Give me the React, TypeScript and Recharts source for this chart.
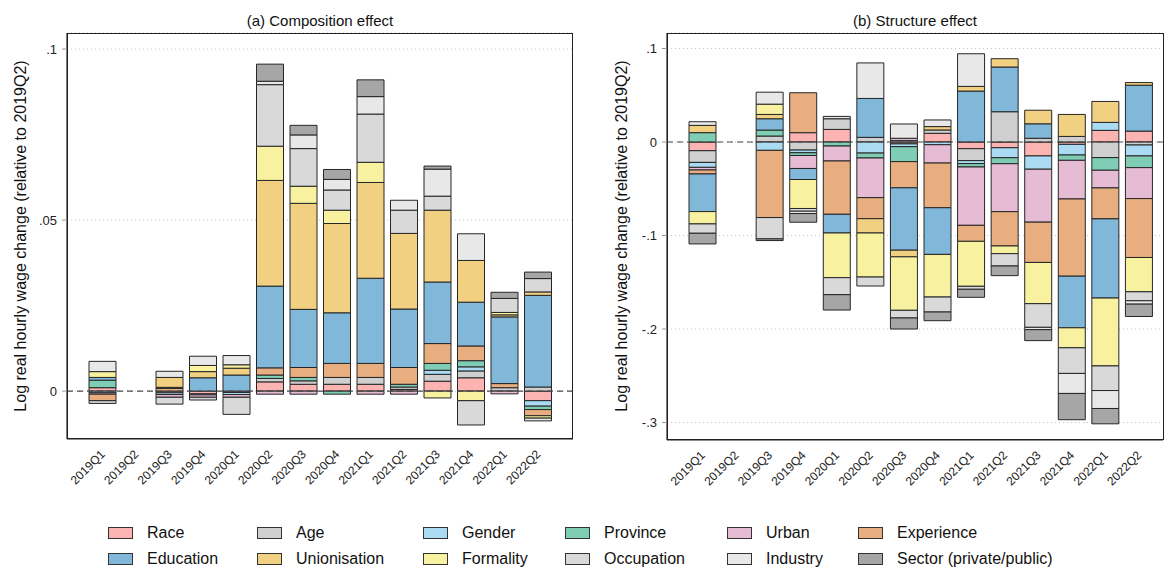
import React from 'react';
import { BarChart, Bar, XAxis, YAxis, CartesianGrid, ReferenceLine } from 'recharts';

// Quarters on the x axis (2019Q2 is the base period)
const quarters = [
  '2019Q1', '2019Q2', '2019Q3', '2019Q4', '2020Q1', '2020Q2', '2020Q3',
  '2020Q4', '2021Q1', '2021Q2', '2021Q3', '2021Q4', '2022Q1', '2022Q2',
];

const factorNames = [
  'Race', 'Age', 'Gender', 'Province', 'Urban', 'Experience',
  'Education', 'Unionisation', 'Formality', 'Occupation', 'Industry', 'Sector (private/public)',
];

const factorColors = [
  '#fbb4b1', '#cfcfcf', '#abdaf3', '#80cdb5', '#e6bbd4', '#e8ae80',
  '#81b8da', '#f2d081', '#f8f2a0', '#d9d9d9', '#e8e8e8', '#a6a6a6',
];

// (a) Composition effect, one array per factor
const raceA = [0.001, 0, -0.0005, -0.0008, -0.0004, 0.0027, 0.002, 0.002, 0.002, 0.0005, 0.0029, 0.0039, 0, -0.0028];
const ageA = [0, 0, 0, 0, 0, 0.001, 0.001, 0.002, 0.002, 0.0007, 0.002, 0.002, 0.001, 0.0012];
const genderA = [-0.0005, 0, -0.0005, -0.0003, -0.0006, 0, 0, 0, 0, 0, 0.0012, 0.0012, 0, -0.0016];
const provinceA = [0.0022, 0, 0, 0, 0, 0.001, 0.001, -0.0009, 0, 0.0008, 0.002, 0.0018, 0, -0.001];
const urbanA = [-0.0004, 0, -0.0008, -0.0007, -0.0008, -0.0009, -0.0009, 0, -0.0009, -0.0009, 0, 0, -0.0008, 0];
const experienceA = [-0.0019, 0, 0.0008, 0, 0, 0.0021, 0.0029, 0.0041, 0.0041, 0.0049, 0.0058, 0.0043, 0.0012, -0.0018];
const educationA = [0.0008, 0, 0.0003, 0.0039, 0.0047, 0.0239, 0.017, 0.0148, 0.0249, 0.0171, 0.018, 0.0128, 0.0195, 0.0268];
const unionisationA = [0, 0, 0.0029, 0.0018, 0.002, 0.0309, 0.031, 0.0261, 0.028, 0.0221, 0.021, 0.0122, 0.0006, 0.001];
const formalityA = [0.0017, 0, 0, 0.0018, 0.001, 0.01, 0.005, 0.0039, 0.0059, 0, -0.002, -0.0028, 0.0007, -0.0007];
const occupationA = [-0.0008, 0, -0.002, -0.0008, -0.005, 0.018, 0.011, 0.0059, 0.0141, 0.0068, 0.0041, -0.0071, 0.0041, 0.0039];
const industryA = [0.003, 0, 0.0018, 0.0027, 0.0027, 0.001, 0.004, 0.0031, 0.0051, 0.0029, 0.0079, 0.0078, 0, -0.0008];
const sectorA = [0, 0, 0, 0, 0, 0.005, 0.0028, 0.0029, 0.0049, 0, 0.0009, 0, 0.0018, 0.0019];

// (b) Structure effect, one array per factor
const raceB = [-0.0093, 0, 0, 0.01, 0.0135, 0, -0.002, 0.0093, -0.0071, -0.0061, -0.0149, -0.0025, 0.0125, 0.0117];
const ageB = [-0.0125, 0, 0.0064, -0.0086, 0.0114, 0.005, 0.0015, 0.0036, -0.0128, 0.0324, 0.004, 0.006, -0.0167, -0.0032];
const genderB = [-0.0053, 0, -0.0089, -0.0029, 0, -0.0118, -0.003, -0.0029, -0.0032, -0.0107, -0.0142, -0.0114, 0.0085, -0.0117];
const provinceB = [0.01, 0, 0.0064, -0.0029, -0.0043, -0.0053, -0.016, 0, -0.0036, -0.0064, 0, -0.0057, -0.0135, -0.0125];
const urbanB = [-0.0028, 0, 0, -0.0139, -0.016, -0.0424, 0.0025, -0.0196, -0.0624, -0.0513, -0.0566, -0.0413, -0.0189, -0.0331];
const experienceB = [-0.0043, 0, -0.0719, 0.0427, -0.057, -0.0225, -0.028, -0.0478, -0.0171, -0.0367, -0.0431, -0.0826, -0.0331, -0.063];
const educationB = [-0.0402, 0, 0.0121, -0.0118, -0.02, 0.0416, -0.0667, -0.0499, 0.0545, 0.0478, 0.0155, -0.0552, -0.0847, 0.0491];
const unionisationB = [0.0078, 0, 0.0046, 0, 0, -0.0153, -0.0071, 0.0036, 0.005, 0.0089, 0.0145, 0.0235, 0.0224, 0.0028];
const formalityB = [-0.0132, 0, 0.011, -0.031, -0.0478, -0.0471, -0.0572, -0.0456, -0.0481, -0.0082, -0.0441, -0.0214, -0.0726, -0.0367];
const occupationB = [-0.01, 0, -0.0228, -0.0029, -0.0182, -0.0096, -0.0082, -0.016, -0.0032, -0.0132, -0.0253, -0.0274, -0.0263, -0.0096];
const industryB = [0.0039, 0, 0.0128, -0.0025, 0.0025, 0.038, 0.0153, 0.0071, 0.0349, 0, -0.0025, -0.0214, -0.0192, -0.0036];
const sectorB = [-0.0114, 0, -0.0018, -0.0093, -0.0164, 0, -0.0118, -0.0093, -0.0086, -0.0103, -0.0117, -0.0281, -0.0164, -0.0132];

const compositionSeries = [raceA, ageA, genderA, provinceA, urbanA, experienceA, educationA, unionisationA, formalityA, occupationA, industryA, sectorA];
const structureSeries = [raceB, ageB, genderB, provinceB, urbanB, experienceB, educationB, unionisationB, formalityB, occupationB, industryB, sectorB];

const ticksA = [0, 0.05, 0.1];
const ticksB = [-0.3, -0.2, -0.1, 0, 0.1];

const FONT = '"Liberation Sans", Arial, Helvetica, sans-serif';
const AXIS_TITLE = 'Log real hourly wage change (relative to 2019Q2)';

function buildRows(series: number[][]) {
  return quarters.map((q, i) => {
    const row: Record<string, string | number> = { q };
    series.forEach((vals, k) => {
      row['f' + k] = vals[i];
    });
    return row;
  });
}

const rowsA = buildRows(compositionSeries);
const rowsB = buildRows(structureSeries);

// Stata-style tick labels: .1, .05, 0, -.1
function formatTick(v: number) {
  if (v === 0) return '0';
  const s = String(Math.abs(v)).replace(/^0/, '');
  return (v < 0 ? '-' : '') + s;
}

function QuarterTick(props: any) {
  const { x, y, payload } = props;
  const ax = x + 3;
  const ay = y + 14;
  return (
    <text
      x={ax}
      y={ay}
      transform={`rotate(-45 ${ax} ${ay})`}
      textAnchor="end"
      fontSize={12}
      fontFamily={FONT}
      fill="#222"
    >
      {payload.value}
    </text>
  );
}

type PanelProps = {
  rows: Record<string, string | number>[];
  domain: [number, number];
  ticks: number[];
  width: number;
  height: number;
  marginRight: number;
  padRight: number;
};

function Panel({ rows, domain, ticks, width, height, marginRight, padRight }: PanelProps) {
  return (
    <BarChart
      width={width}
      height={height}
      data={rows}
      stackOffset="sign"
      barSize={27}
      margin={{ top: 33, right: marginRight, bottom: 11, left: 27 }}
    >
      <CartesianGrid vertical={false} stroke="#c4c4c4" strokeDasharray="1 3" />
      <XAxis
        dataKey="q"
        interval={0}
        height={50}
        padding={{ left: 19, right: padRight }}
        tickLine={false}
        tickSize={0}
        axisLine={{ stroke: '#222', strokeWidth: 1.2 }}
        tick={<QuarterTick />}
      />
      <YAxis
        type="number"
        domain={domain}
        ticks={ticks}
        allowDataOverflow
        width={40}
        tickSize={5}
        tickMargin={5}
        tickFormatter={formatTick}
        axisLine={{ stroke: '#222', strokeWidth: 1.2 }}
        tickLine={{ stroke: '#999' }}
        tick={{ fontSize: 13, fill: '#222', fontFamily: FONT }}
      />
      {factorNames.map((name, k) => (
        <Bar
          key={name}
          dataKey={'f' + k}
          name={name}
          stackId="s"
          fill={factorColors[k]}
          stroke="#262626"
          strokeWidth={1}
          isAnimationActive={false}
        />
      ))}
      <ReferenceLine y={0} stroke="#4a4a4a" strokeDasharray="6 4" strokeWidth={1.2} />
    </BarChart>
  );
}

const legendCols = [108, 257, 423, 565, 727, 858];
const legendRows = [533, 559];

export default function App() {
  return (
    <div
      style={{
        position: 'absolute',
        left: 0,
        top: 0,
        width: 1165,
        height: 569,
        background: '#fff',
        fontFamily: FONT,
        color: '#111',
        overflow: 'hidden',
      }}
    >
      <div style={{ position: 'absolute', left: 0, top: 0 }}>
        <Panel rows={rowsA} domain={[-0.014, 0.1047]} ticks={ticksA} width={580} height={500} marginRight={7} padRight={18} />
      </div>
      <div style={{ position: 'absolute', left: 600, top: 0 }}>
        <Panel rows={rowsB} domain={[-0.3187, 0.1166]} ticks={ticksB} width={565} height={501} marginRight={2} padRight={7} />
      </div>

      {/* plot frames */}
      <div style={{ position: 'absolute', left: 67, top: 33, width: 506, height: 406, border: '1.2px solid #222', boxSizing: 'border-box', pointerEvents: 'none' }} />
      <div style={{ position: 'absolute', left: 667, top: 33, width: 497, height: 407, border: '1.2px solid #222', boxSizing: 'border-box', pointerEvents: 'none' }} />

      {/* panel titles */}
      <div style={{ position: 'absolute', left: 320, top: 20, transform: 'translate(-50%, -50%)', fontSize: 15, whiteSpace: 'nowrap' }}>
        (a) Composition effect
      </div>
      <div style={{ position: 'absolute', left: 915, top: 20, transform: 'translate(-50%, -50%)', fontSize: 15, whiteSpace: 'nowrap' }}>
        (b) Structure effect
      </div>

      {/* y-axis titles */}
      <div style={{ position: 'absolute', left: 21, top: 236, transform: 'translate(-50%, -50%) rotate(-90deg)', fontSize: 16, whiteSpace: 'nowrap' }}>
        {AXIS_TITLE}
      </div>
      <div style={{ position: 'absolute', left: 622, top: 236, transform: 'translate(-50%, -50%) rotate(-90deg)', fontSize: 16, whiteSpace: 'nowrap' }}>
        {AXIS_TITLE}
      </div>

      {/* legend */}
      {factorNames.map((name, k) => {
        const col = k % 6;
        const row = Math.floor(k / 6);
        return (
          <div
            key={name}
            style={{
              position: 'absolute',
              left: legendCols[col],
              top: legendRows[row],
              transform: 'translateY(-50%)',
              display: 'flex',
              alignItems: 'center',
              whiteSpace: 'nowrap',
              fontSize: 16,
            }}
          >
            <span
              style={{
                display: 'inline-block',
                width: 25,
                height: 12,
                background: factorColors[k],
                border: '1px solid #333',
                boxSizing: 'border-box',
                marginRight: 14,
              }}
            />
            <span>{name}</span>
          </div>
        );
      })}
    </div>
  );
}
